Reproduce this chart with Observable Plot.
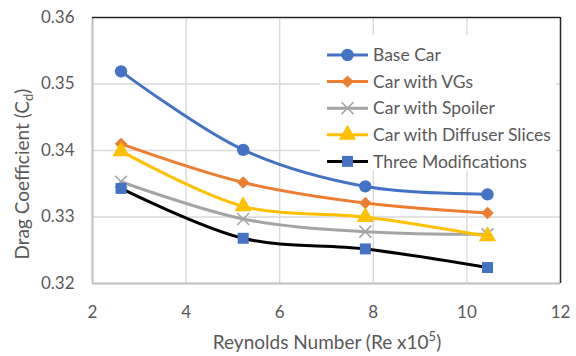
<!DOCTYPE html>
<html>
<head>
<meta charset="utf-8">
<script src="https://cdn.jsdelivr.net/npm/d3@7"></script>
<script src="https://cdn.jsdelivr.net/npm/@observablehq/plot@0.6"></script>
<style>
  html, body { margin: 0; padding: 0; background: #fff; }
  #chart { width: 576px; height: 356px; }
  svg { font-family: Lato, "Open Sans", sans-serif; }
</style>
</head>
<body>
<div id="chart"></div>
<script>
// ---- data ----
const reynolds = [2.61, 5.22, 7.83, 10.44];           // Re x10^5
const seriesNames = ["Base Car", "Car with VGs", "Car with Spoiler", "Car with Diffuser Slices", "Three Modifications"];
const baseCar     = [0.3519, 0.3401, 0.3346, 0.3334];
const carVGs      = [0.3410, 0.3352, 0.3321, 0.3306];
const carSpoiler  = [0.3353, 0.3297, 0.3278, 0.3274];
const carDiffuser = [0.3399, 0.3316, 0.3300, 0.3271];
const threeMods   = [0.3343, 0.3268, 0.3252, 0.3224];
const xTicks = [2, 4, 6, 8, 10, 12];
const yTicks = [0.32, 0.33, 0.34, 0.35, 0.36];

// styles (not data)
const styles = [
  {line: "#4472C4", fill: "#4472C4", stroke: "none", symbol: "circle", r: 6.2},
  {line: "#ED7D31", fill: "#ED7D31", stroke: "none", symbol: "diamond2", r: 5.6},
  {line: "#A5A5A5", fill: "none", stroke: "#A5A5A5", symbol: "times", r: 5.5},
  {line: "#FFC000", fill: "#FFC000", stroke: "none", symbol: "triangle", r: 6.4},
  {line: "#000000", fill: "#4472C4", stroke: "none", symbol: "square", r: 6.2}
];

const valueLists = [baseCar, carVGs, carSpoiler, carDiffuser, threeMods];
const rows = valueLists.map((vals, i) => vals.map((v, j) => ({series: seriesNames[i], idx: i, x: reynolds[j], y: v})));

const marks = [
  Plot.ruleY(yTicks.slice(1, -1), {stroke: "#d9d9d9", strokeWidth: 1.3}),
  Plot.ruleX(xTicks.slice(1, -1), {stroke: "#d9d9d9", strokeWidth: 1.3}),
  Plot.ruleX([xTicks[0]], {stroke: "#bfbfbf", strokeWidth: 2}),
  Plot.ruleY([yTicks[0]], {stroke: "#bfbfbf", strokeWidth: 2}),
  Plot.ruleY([yTicks[yTicks.length - 1]], {stroke: "#262626", strokeWidth: 1.5}),
  Plot.ruleX([xTicks[xTicks.length - 1]], {stroke: "#262626", strokeWidth: 1.5}),
];
rows.forEach((data, i) => {
  const s = styles[i];
  marks.push(Plot.line(data, {x: "x", y: "y", stroke: s.line, strokeWidth: 3, curve: "catmull-rom"}));
});
rows.forEach((data, i) => {
  const s = styles[i];
  marks.push(Plot.dot(data, {x: "x", y: "y", symbol: () => s.symbol, r: s.r,
    fill: s.fill, stroke: s.stroke, strokeWidth: s.symbol === "times" ? 1.6 : 0}));
});

const chart = Plot.plot({
  width: 576,
  height: 356,
  marginLeft: 92,
  marginRight: 16,
  marginTop: 17,
  marginBottom: 73,
  style: {fontFamily: "Lato, 'Open Sans', sans-serif", fontSize: "17px", color: "#595959", background: "#fff", overflow: "visible"},
  x: {domain: [2, 12], ticks: xTicks, tickSize: 0, tickPadding: 22, label: null},
  y: {domain: [0.32, 0.36], ticks: yTicks, tickFormat: d3.format(".2f"), tickSize: 0, tickPadding: 18, label: null},
  symbol: {type: "identity"},
  marks
});
document.getElementById("chart").appendChild(chart);

const svg = d3.select(chart);
svg.selectAll("g[aria-label='x-axis tick label'] text, g[aria-label='y-axis tick label'] text").attr("fill", "#595959");

// axis titles with sub/superscripts
const xt = svg.append("text").attr("x", 327).attr("y", 349).attr("text-anchor", "middle")
  .attr("fill", "#595959").style("font-size", "19px");
xt.append("tspan").text("Reynolds Number (Re x10");
xt.append("tspan").attr("dy", -8).style("font-size", "13px").text("5");
xt.append("tspan").attr("dy", 8).text(")");

const yt = svg.append("text").attr("transform", "translate(29,174) rotate(-90)").attr("text-anchor", "middle")
  .attr("fill", "#595959").style("font-size", "19px");
yt.append("tspan").text("Drag Coefficient (C");
yt.append("tspan").attr("dy", 4).style("font-size", "13px").text("d");
yt.append("tspan").attr("dy", -4).text(")");

// legend
const lg = svg.append("g").attr("text-anchor", "start");
lg.append("rect").attr("x", 320).attr("y", 35).attr("width", 236).attr("height", 136).attr("fill", "#fff");
const symMap = {circle: d3.symbolCircle, diamond2: d3.symbolDiamond2, times: d3.symbolTimes, triangle: d3.symbolTriangle, square: d3.symbolSquare};
seriesNames.forEach((name, i) => {
  const s = styles[i];
  const cy = 55 + i * 26.6;
  lg.append("line").attr("x1", 327).attr("x2", 368).attr("y1", cy).attr("y2", cy)
    .attr("stroke", s.line).attr("stroke-width", 3);
  lg.append("path").attr("transform", `translate(347.5,${cy})`)
    .attr("d", d3.symbol(symMap[s.symbol], Math.PI * s.r * s.r)())
    .attr("fill", s.fill).attr("stroke", s.stroke).attr("stroke-width", s.symbol === "times" ? 1.6 : 0);
  lg.append("text").attr("x", 373).attr("y", cy).attr("dy", "0.35em").attr("text-anchor", "start")
    .attr("fill", "#595959").style("font-size", "17.5px").text(name);
});
</script>
</body>
</html>
